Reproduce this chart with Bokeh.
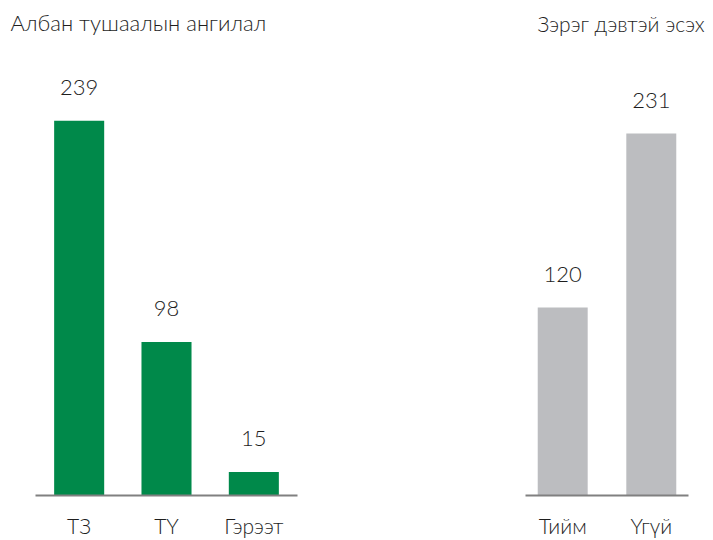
from bokeh.plotting import figure
from bokeh.models import FactorRange, Range1d, ColumnDataSource
from bokeh.layouts import row
from bokeh.core.properties import value
from bokeh.embed import file_html
from bokeh.resources import INLINE

# ---- data ----
left_title = "Албан тушаалын ангилал"
left_cats = ["ТЗ", "ТҮ", "Гэрээт"]
left_vals = [239, 98, 15]

right_title = "Зэрэг дэвтэй эсэх"
right_cats = ["Тийм", "Үгүй"]
right_vals = [120, 231]

FONT = "Lato Light"
TEXT_COLOR = "#1e1e1e"
GREEN = "#00894A"
GRAY = "#BCBDC0"
AXIS_COLOR = "#808080"
Y_END = 289


def make_panel(title, cats, vals, color, width, border_left, border_right,
               bar_width, padding, title_offset, title_size):
    src = ColumnDataSource(dict(cat=cats, val=vals, lab=[str(v) for v in vals]))
    p = figure(
        x_range=FactorRange(*cats, range_padding=padding, range_padding_units="absolute"),
        y_range=Range1d(0, Y_END),
        width=width, height=540,
        output_backend="svg", toolbar_location=None,
        y_axis_location=None,
        min_border_left=border_left, min_border_right=border_right,
        min_border_top=40, min_border_bottom=44,
        title=title,
    )
    p.title.text_font = FONT
    p.title.text_font_size = title_size
    p.title.text_font_style = "normal"
    p.title.text_color = TEXT_COLOR
    p.title.align = "left"
    p.title.offset = title_offset
    p.title.standoff = 13
    p.vbar(x="cat", top="val", width=bar_width, source=src, color=color, line_color=None)
    p.text(x="cat", y="val", text="lab", source=src, text_align="center",
           text_baseline="alphabetic", y_offset=-33,
           text_font=value(FONT), text_font_size="22px", text_color=TEXT_COLOR)
    p.xgrid.visible = False
    p.ygrid.visible = False
    p.outline_line_color = None
    ax = p.xaxis[0]
    ax.axis_line_color = AXIS_COLOR
    ax.axis_line_width = 2
    ax.major_tick_line_color = None
    ax.minor_tick_line_color = None
    ax.major_tick_out = 0
    ax.major_tick_in = 0
    ax.major_label_standoff = 17
    ax.major_label_text_font = FONT
    ax.major_label_text_font_size = "21px"
    ax.major_label_text_color = TEXT_COLOR
    p.background_fill_color = "white"
    p.border_fill_color = "white"
    return p


p1 = make_panel(left_title, left_cats, left_vals, GREEN, 400, 35, 103, 0.573, 0.0, -25, "22px")
p2 = make_panel(right_title, right_cats, right_vals, GRAY, 313, 125, 25, 0.564, -0.08, 12, "21px")

layout = row(p1, p2)
open("out.html", "w").write(file_html(layout, INLINE))
